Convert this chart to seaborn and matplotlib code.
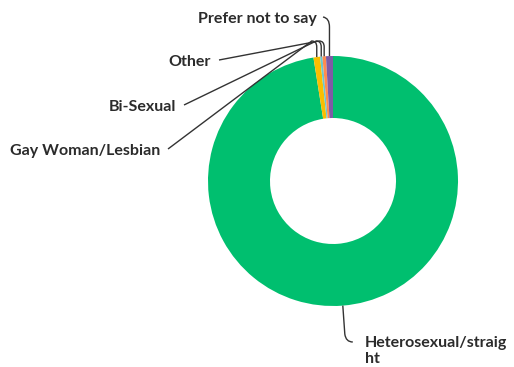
import numpy as np
import matplotlib
matplotlib.use("Agg")
import matplotlib.pyplot as plt
from matplotlib.path import Path
from matplotlib.patches import PathPatch
import seaborn as sns

# Survey responses (percent of respondents)
categories = ["Heterosexual/straight", "Gay Woman/Lesbian", "Bi-Sexual", "Other", "Prefer not to say"]
shares = [97.5, 0.85, 0.3, 0.45, 0.9]
colors = ["#00BF6F", "#F9BE00", "#6BC8CD", "#FF8B4F", "#7D5BA6"]
label_texts = ["Heterosexual/straig\nht", "Gay Woman/Lesbian", "Bi-Sexual", "Other", "Prefer not to say"]

sns.set_theme(style="white")
plt.rcParams["font.family"] = ["Lato", "DejaVu Sans"]

W, H = 514, 367
fig = plt.figure(figsize=(W / 100, H / 100), dpi=100)
ax = fig.add_axes([0, 0, 1, 1])

cx, cy = 333, H - 181
R = 125
ring = 62

wedges, _ = ax.pie(
    shares,
    colors=sns.color_palette(colors),
    startangle=90,
    counterclock=False,
    center=(cx, cy),
    radius=R,
    wedgeprops=dict(width=ring, linewidth=0),
    frame=True,
)
ax.set_xlim(0, W)
ax.set_ylim(0, H)
ax.set_aspect("equal")
ax.axis("off")


def anchor(w):
    ang = np.deg2rad((w.theta1 + w.theta2) / 2)
    return cx + R * np.cos(ang), cy + R * np.sin(ang)


line_kw = dict(facecolor="none", edgecolor="#333333", linewidth=1.0)
text_kw = dict(fontsize=11.5, fontweight="bold", color="#2b2b2b", va="center")


def leader(points, codes):
    ax.add_patch(PathPatch(Path(points, codes), **line_kw))


# labels on the left, leading to the thin slices at the top
bend_y = H - 41
left_labels = {1: (160, H - 151), 2: (176, H - 107), 3: (211, H - 62)}
for i, (tx, ty) in left_labels.items():
    ax.text(tx, ty, label_texts[i], ha="right", **text_kw)
    axx, axy = anchor(wedges[i])
    pts = [(tx + 8, ty + 2), (axx - 5, bend_y), (axx, bend_y), (axx, bend_y - 6), (axx, axy)]
    codes = [Path.MOVETO, Path.LINETO, Path.CURVE3, Path.CURVE3, Path.LINETO]
    leader(pts, codes)

# "Prefer not to say" above the ring
tx, ty = 317, H - 19
ax.text(tx, ty, label_texts[4], ha="right", **text_kw)
axx, axy = anchor(wedges[4])
pts = [(tx + 6, ty + 2), (axx, ty + 1), (axx, ty - 8), (axx, axy)]
codes = [Path.MOVETO, Path.CURVE3, Path.CURVE3, Path.LINETO]
leader(pts, codes)

# main slice label below the ring
axx, axy = anchor(wedges[0])
tx, ty = 365, H - 351
ax.text(tx, ty, label_texts[0], ha="left", linespacing=1.1, **text_kw)
pts = [(axx, axy), (axx + 2, H - 334), (axx + 3, H - 342), (axx + 10, H - 342)]
codes = [Path.MOVETO, Path.LINETO, Path.CURVE3, Path.CURVE3]
leader(pts, codes)

fig.savefig("out.png", dpi=100)
